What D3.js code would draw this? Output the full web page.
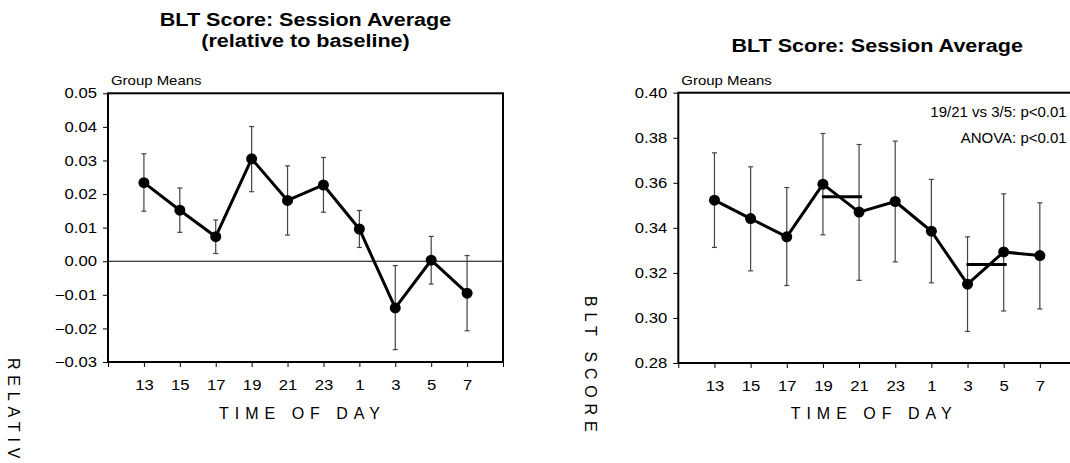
<!DOCTYPE html>
<html>
<head>
  <meta charset="UTF-8">
  <title>BLT Score: Session Average</title>
  <script src="https://d3js.org/d3.v7.min.js"></script>
  <style>
    body { margin: 0; padding: 0; background: #fff; }
    svg { display: block; font-family: "Liberation Sans", Arial, sans-serif; }
    .tick text { font-size: 14.5px; fill: #000; }
    .axis path, .axis line { stroke: #000; }
  </style>
</head>
<body>
<script>
  const width = 1070;
  const height = 463;

  // time of day for each session
  const times = ["13", "15", "17", "19", "21", "23", "1", "3", "5", "7"];

  // left panel: relative to baseline
  const relMean  = [0.0234, 0.0152, 0.0073, 0.0305, 0.0181, 0.0227, 0.0096, -0.0139, 0.0003, -0.0095];
  const relUpper = [0.0320, 0.0218, 0.0123, 0.0401, 0.0284, 0.0309, 0.0151, -0.0013, 0.0074, 0.0017];
  const relLower = [0.0149, 0.0086, 0.0023, 0.0207, 0.0078, 0.0146, 0.0041, -0.0263, -0.0068, -0.0207];
  const relTicks = [-0.03, -0.02, -0.01, 0.00, 0.01, 0.02, 0.03, 0.04, 0.05];

  // right panel: raw score
  const scoreMean  = [0.3523, 0.3441, 0.3360, 0.3594, 0.3470, 0.3517, 0.3385, 0.3150, 0.3293, 0.3277];
  const scoreUpper = [0.3733, 0.3671, 0.3579, 0.3819, 0.3770, 0.3785, 0.3615, 0.3360, 0.3551, 0.3511];
  const scoreLower = [0.3313, 0.3209, 0.3144, 0.3369, 0.3167, 0.3249, 0.3156, 0.2940, 0.3031, 0.3040];
  const scoreTicks = [0.28, 0.30, 0.32, 0.34, 0.36, 0.38, 0.40];

  // pooled means compared in the test
  const sigBars = [
    { from: "19", to: "21", value: 0.3538 },
    { from: "3", to: "5", value: 0.3237 }
  ];
  const notes = ["19/21 vs 3/5: p<0.01", "ANOVA: p<0.01"];

  // the original text is a little wider than Arial
  const stretch = "scale(1.15,1)";

  const svg = d3.select("body")
    .append("svg")
    .attr("width", width)
    .attr("height", height);

  function drawPanel(p) {
    const x = d3.scaleLinear().domain([0, times.length + 1]).range([p.left, p.right]);
    const y = d3.scaleLinear().domain(p.domain).range([p.bottom, p.top]);
    const cx = (d, i) => x(i + 1);
    const g = svg.append("g");

    if (p.zero) {
      g.append("line")
        .attr("x1", p.left).attr("x2", p.right)
        .attr("y1", y(0)).attr("y2", y(0))
        .attr("stroke", "#000").attr("stroke-width", 1);
    }

    g.append("g")
      .attr("class", "axis")
      .attr("transform", `translate(${p.left},0)`)
      .call(d3.axisLeft(y).tickValues(p.ticks).tickFormat(d3.format(".2f"))
        .tickSize(5).tickPadding(4.6).tickSizeOuter(0))
      .call(a => a.select(".domain").remove())
      .call(a => a.selectAll(".tick text").attr("transform", stretch));

    g.append("g")
      .attr("class", "axis")
      .attr("transform", `translate(0,${p.bottom})`)
      .call(d3.axisBottom(x).tickValues(d3.range(0, times.length + 2))
        .tickFormat(i => times[i - 1] || "")
        .tickSize(5).tickPadding(12.5).tickSizeOuter(0))
      .call(a => a.select(".domain").remove())
      .call(a => a.selectAll(".tick text").attr("transform", stretch));

    g.append("rect")
      .attr("x", p.left).attr("y", p.top)
      .attr("width", p.right - p.left).attr("height", p.bottom - p.top)
      .attr("fill", "none").attr("stroke", "#000").attr("stroke-width", 2);

    // error bars
    const eb = g.append("g").attr("stroke", "#444").attr("stroke-width", 1.2);
    eb.selectAll(".stem").data(p.mean).enter().append("line")
      .attr("x1", cx).attr("x2", cx)
      .attr("y1", (d, i) => y(p.upper[i])).attr("y2", (d, i) => y(p.lower[i]));
    [p.upper, p.lower].forEach(arr => {
      eb.selectAll(null).data(arr).enter().append("line")
        .attr("x1", (d, i) => x(i + 1) - 2.5).attr("x2", (d, i) => x(i + 1) + 2.5)
        .attr("y1", d => y(d)).attr("y2", d => y(d));
    });

    g.append("path")
      .datum(p.mean)
      .attr("fill", "none").attr("stroke", "#000").attr("stroke-width", 3)
      .attr("stroke-linejoin", "round")
      .attr("d", d3.line().x(cx).y(d => y(d)));

    g.selectAll("circle").data(p.mean).enter().append("circle")
      .attr("cx", cx).attr("cy", d => y(d)).attr("r", 5.5).attr("fill", "#000");

    g.append("text")
      .attr("transform", `translate(${p.left + 3},${p.top - 8}) ${stretch}`)
      .attr("font-size", 13).text("Group Means");

    const mid = (p.left + p.right) / 2;
    g.append("text")
      .attr("x", mid - 3).attr("y", 419)
      .attr("text-anchor", "middle").attr("font-size", 16)
      .attr("letter-spacing", 6).text("TIME OF DAY");

    p.title.forEach((line, k) => {
      g.append("text")
        .attr("transform", `translate(${mid},${p.titleY + k * 20.5}) scale(1.135,1)`)
        .attr("text-anchor", "middle").attr("font-size", 19).attr("font-weight", "bold")
        .text(line);
    });

    g.append("text")
      .attr("transform", `translate(${p.ylabX},${p.ylabY}) rotate(90)`)
      .attr("font-size", 16).attr("letter-spacing", 5.8)
      .text(p.ylabel);

    return { g, x, y };
  }

  drawPanel({
    left: 108, right: 503, top: 93.3, bottom: 362,
    domain: [-0.03, 0.05], ticks: relTicks, zero: true,
    mean: relMean, upper: relUpper, lower: relLower,
    title: ["BLT Score: Session Average", "(relative to baseline)"], titleY: 26,
    ylabel: "RELATIVE BLT SCORE", ylabX: 8, ylabY: 358
  });

  const right = drawPanel({
    left: 678.3, right: 1076, top: 92.7, bottom: 363,
    domain: [0.28, 0.40], ticks: scoreTicks, zero: false,
    mean: scoreMean, upper: scoreUpper, lower: scoreLower,
    title: ["BLT Score: Session Average"], titleY: 51.5,
    ylabel: "BLT SCORE", ylabX: 585, ylabY: 296
  });

  right.g.selectAll(".sig").data(sigBars).enter().append("line")
    .attr("x1", d => right.x(times.indexOf(d.from) + 1) - 1)
    .attr("x2", d => right.x(times.indexOf(d.to) + 1) + 3)
    .attr("y1", d => right.y(d.value)).attr("y2", d => right.y(d.value))
    .attr("stroke", "#000").attr("stroke-width", 3);

  right.g.selectAll(".note").data(notes).enter().append("text")
    .attr("x", 1066.7).attr("y", (d, i) => 117.3 + i * 26)
    .attr("text-anchor", "end").attr("font-size", 15)
    .text(d => d);
</script>
</body>
</html>
